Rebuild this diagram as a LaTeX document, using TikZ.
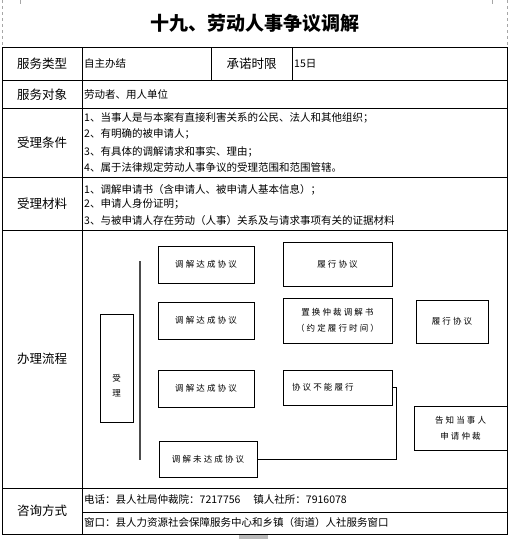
\documentclass[tikz,border=0pt]{standalone}
\usepackage{fontspec}
\setmainfont{Noto Sans CJK SC}
\newfontfamily\flowfont[LetterSpace=25]{Noto Sans CJK SC}
\begin{document}
\begin{tikzpicture}[x=1pt,y=-1pt,
  grid/.style={line width=0.9pt,black},
  lbl/.style={font=\fontsize{12.5}{14}\selectfont,inner sep=0},
  txt/.style={font=\fontsize{10.5}{12}\selectfont,anchor=west,inner sep=0},
  box/.style={draw,line width=0.8pt,inner sep=0,align=center,
    font=\flowfont\fontsize{8.5}{16}\selectfont},
  conn/.style={line width=0.8pt},
  margin/.style={gray!70,dashed,line width=0.5pt}]
\useasboundingbox (0,0) rectangle (510,539);
% page margin marks
\draw[margin] (2,0) -- (2,47);
\draw[margin] (507,0) -- (507,47);
\draw[gray!70,line width=0.5pt] (20,0) -- (20,4) (492,0) -- (492,4);
% title
\node[font=\fontsize{19}{22}\selectfont\bfseries] (title) at (255,23) {十九、劳动人事争议调解};
% table
\draw[grid] (2,47) rectangle (507,534);
\draw[grid] (2,80.7) -- (507,80.7)
            (2,108) -- (507,108)
            (2,177) -- (507,177)
            (2,230) -- (507,230)
            (2,488) -- (507,488)
            (82,512) -- (507,512);
\draw[grid] (82,47) -- (82,534)
            (211,47) -- (211,80.7)
            (292,47) -- (292,80.7);
% row labels
\node[lbl] (l1) at (42,64) {服务类型};
\node[lbl] (l1b) at (251.5,64) {承诺时限};
\node[lbl] (l2) at (42,94.5) {服务对象};
\node[lbl] (l3) at (42,142.5) {受理条件};
\node[lbl] (l4) at (42,203.5) {受理材料};
\node[lbl] (l5) at (42,359) {办理流程};
\node[lbl] (l6) at (42,511) {咨询方式};
% row contents
\node[txt] (c1) at (84,64) {自主办结};
\node[txt] (c1b) at (294,64) {15日};
\node[txt] (c2) at (84,94.5) {劳动者、用人单位};
\node[txt] (c3a) at (84,117.7) {1、当事人是与本案有直接利害关系的公民、法人和其他组织；};
\node[txt] (c3b) at (84,134) {2、有明确的被申请人；};
\node[txt] (c3c) at (84,151.7) {3、有具体的调解请求和事实、理由；};
\node[txt] (c3d) at (84,167.7) {4、属于法律规定劳动人事争议的受理范围和范围管辖。};
\node[txt] (c4a) at (84,190) {1、调解申请书（含申请人、被申请人基本信息）；};
\node[txt] (c4b) at (84,204.3) {2、申请人身份证明；};
\node[txt] (c4c) at (84,221) {3、与被申请人存在劳动（人事）关系及与请求事项有关的证据材料};
\node[txt] (c6a) at (84,499) {电话：县人社局仲裁院：7217756\hspace{13pt}镇人社所：7916078};
\node[txt] (c6b) at (84,522.7) {窗口：县人力资源社会保障服务中心和乡镇（街道）人社服务窗口};
% flow chart
\node[box,minimum width=33,minimum height=108] (s) at (116.5,368) {};
\node[font=\flowfont\fontsize{8.5}{15}\selectfont,align=center,inner sep=0] (st) at (116.5,385.5) {受\\理};
\coordinate (vt) at (140,261);
\coordinate (vb) at (140,460);
\draw[gray!60!black,line width=1.2pt] (vt) -- (vb);
\node[box,minimum width=96,minimum height=37] (a1) at (206,264.5) {调解达成协议};
\node[box,minimum width=109,minimum height=44] (b1) at (337.5,264) {履行协议};
\node[box,minimum width=96,minimum height=37] (a2) at (206,320.5) {调解达成协议};
\node[box,minimum width=109,minimum height=45] (b2) at (337.5,320.5) {置换仲裁调解书\\（约定履行时间）};
\node[box,minimum width=72,minimum height=43] (c2) at (452,321.5) {履行协议};
\node[box,minimum width=96,minimum height=37] (a3) at (206,388.5) {调解达成协议};
\node[box,minimum height=35,text width=91,inner xsep=9,align=left] (b3) at (337.5,387.5) {协议不能履行};
\node[box,minimum width=93,minimum height=44] (d) at (460.5,428) {告知当事人\\申请仲裁};
\node[box,minimum width=98,minimum height=36] (a4) at (208,459) {调解未达成协议};
\draw[conn] (b3.east) -- ++(4,0) |- (a4.east);
% bottom tab
\fill[gray!55] (239,535) rectangle (268,539);
\end{tikzpicture}
\end{document}
